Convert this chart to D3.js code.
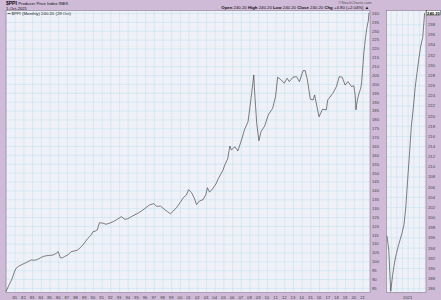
<!DOCTYPE html>
<html>
<head>
<meta charset="utf-8">
<script src="https://cdn.jsdelivr.net/npm/d3@7"></script>
<style>
  body { margin: 0; background: #fff; }
  svg { display: block; font-family: "Liberation Sans", Arial, sans-serif; }
</style>
</head>
<body>
<svg width="441" height="300"></svg>
<script>
// monthly readings of $PPI (turning points), 1980 - 2019
let ppiHistory = [
  ['1980-01', 83.0], ['1980-05', 86.5], ['1980-09', 89.8], ['1981-01', 94.5], ['1981-03', 96.1],
  ['1981-07', 97.4], ['1981-10', 98.0], ['1982-02', 98.8], ['1982-05', 99.3], ['1982-09', 100.2],
  ['1982-12', 100.8], ['1983-04', 100.6], ['1983-07', 100.9], ['1983-10', 101.4], ['1984-01', 102.1],
  ['1984-05', 102.8], ['1984-09', 103.2], ['1985-01', 103.3], ['1985-06', 103.6], ['1985-10', 104.4],
  ['1986-01', 105.5], ['1986-04', 102.1], ['1986-07', 102.0], ['1986-10', 102.7], ['1987-03', 103.8],
  ['1987-07', 105.5], ['1987-11', 105.8], ['1988-04', 106.4], ['1988-08', 107.9], ['1988-11', 109.2],
  ['1989-03', 111.3], ['1989-06', 113.0], ['1989-10', 114.6], ['1990-01', 116.7], ['1990-04', 117.0],
  ['1990-07', 117.7], ['1990-10', 121.8], ['1991-03', 121.5], ['1991-07', 120.9], ['1991-12', 121.5],
  ['1992-05', 122.4], ['1992-09', 123.3], ['1993-02', 124.6], ['1993-04', 125.2], ['1993-09', 123.7],
  ['1994-01', 124.0], ['1994-06', 125.2], ['1994-11', 126.3], ['1995-03', 127.1], ['1995-08', 128.4],
  ['1996-01', 129.9], ['1996-07', 131.8], ['1997-01', 132.5], ['1997-05', 131.0], ['1997-10', 131.2],
  ['1998-04', 129.2], ['1998-08', 128.0], ['1998-12', 126.8], ['1999-04', 128.4], ['1999-09', 130.6],
  ['2000-01', 133.0], ['2000-06', 136.0], ['2000-10', 137.4], ['2001-01', 140.4], ['2001-05', 138.8],
  ['2001-09', 135.5], ['2001-12', 132.0], ['2002-04', 134.0], ['2002-09', 134.8], ['2003-01', 137.8],
  ['2003-03', 141.5], ['2003-06', 139.0], ['2003-10', 140.8], ['2004-03', 143.8], ['2004-06', 146.6],
  ['2004-10', 149.6], ['2004-12', 151.0], ['2005-03', 154.3], ['2005-07', 157.8], ['2005-10', 165.0],
  ['2005-12', 162.8], ['2006-05', 164.6], ['2006-09', 162.2], ['2007-02', 168.4], ['2007-06', 174.0],
  ['2007-11', 178.7], ['2008-02', 188.0], ['2008-04', 194.5], ['2008-07', 205.1], ['2008-08', 196.6],
  ['2008-11', 177.8], ['2009-02', 168.0], ['2009-05', 173.1], ['2009-10', 176.3], ['2010-03', 182.5],
  ['2010-09', 186.3], ['2011-01', 192.8], ['2011-04', 203.8], ['2011-09', 202.2], ['2012-01', 200.4],
  ['2012-05', 203.2], ['2012-08', 201.3], ['2013-01', 203.8], ['2013-06', 204.1], ['2013-10', 201.3],
  ['2014-03', 207.5], ['2014-06', 207.5], ['2014-09', 202.2], ['2015-01', 191.4], ['2015-05', 191.0],
  ['2015-07', 193.8], ['2016-01', 181.5], ['2016-06', 185.8], ['2016-11', 185.4], ['2017-01', 191.0],
  ['2017-08', 194.7], ['2018-01', 198.5], ['2018-05', 204.1], ['2018-09', 203.8], ['2019-01', 199.4],
  ['2019-05', 201.3], ['2019-10', 198.5]
];

// every month from Jan 2020 to Oct 2021
let recentMonths = ['2020-01', '2020-02', '2020-03', '2020-04', '2020-05', '2020-06', '2020-07', '2020-08',
  '2020-09', '2020-10', '2020-11', '2020-12', '2021-01', '2021-02', '2021-03', '2021-04', '2021-05',
  '2021-06', '2021-07', '2021-08', '2021-09', '2021-10'];
let recentValues = [199.0, 196.3, 193.5, 185.4, 188.5, 191.0, 192.8, 194.3, 195.6, 196.9, 198.5, 202.0,
  207.5, 212.9, 218.0, 221.5, 225.5, 228.5, 231.3, 233.8, 235.4, 240.2];

let mainTicks = d3.range(85, 241, 5);
let zoomTicks = d3.range(186, 240, 2);
let yearLabels = d3.range(1981, 2022);

let parseMonth = d3.timeParse('%Y-%m');
let series = ppiHistory.map(d => ({ date: parseMonth(d[0]), value: d[1] }))
  .concat(recentMonths.map((m, i) => ({ date: parseMonth(m), value: recentValues[i] })));
let zoomSeries = series.filter(d => d.date >= parseMonth('2020-02'));

let purple = '#cfbad8';
let plotBg = '#f0f1f8';
let gridColor = '#c2e3ee';
let inkColor = '#444';

let svg = d3.select('svg');
svg.append('rect').attr('width', 441).attr('height', 300).attr('fill', purple);

let plotTop = 10.5, plotBottom = 292.5;

// main panel
let x = d3.scaleTime()
  .domain([parseMonth('1980-01'), parseMonth('2021-10')])
  .range([6, 369]);
let y = d3.scaleLinear().domain([82.44, 241.41]).range([plotBottom, plotTop]);

let main = svg.append('g');
main.append('rect')
  .attr('x', 6).attr('y', plotTop).attr('width', 364).attr('height', plotBottom - plotTop)
  .attr('fill', plotBg);

main.append('g')
  .attr('transform', `translate(0, ${plotBottom})`)
  .call(d3.axisBottom(x).ticks(d3.timeYear.every(1)).tickSize(-(plotBottom - plotTop)).tickFormat(''))
  .call(g => g.select('.domain').remove())
  .call(g => g.selectAll('line').attr('stroke', gridColor).attr('stroke-width', 0.6));

main.append('g')
  .attr('transform', 'translate(370, 0)')
  .call(d3.axisRight(y).tickValues(mainTicks).tickSize(-364).tickPadding(2).tickFormat(d3.format('d')))
  .call(g => g.select('.domain').remove())
  .call(g => g.selectAll('line').attr('stroke', gridColor).attr('stroke-width', 0.6))
  .call(g => g.selectAll('text').attr('font-size', 4.2).attr('fill', inkColor).attr('font-family', 'Liberation Sans'));

main.selectAll('.yr')
  .data(yearLabels)
  .join('text')
    .attr('class', 'yr')
    .attr('x', d => x(new Date(d, 0, 1)))
    .attr('y', 298.5)
    .attr('text-anchor', 'middle')
    .attr('font-size', 4.2)
    .attr('fill', inkColor)
    .text(d => String(d).slice(2));

main.append('rect')
  .attr('x', 6).attr('y', plotTop).attr('width', 364).attr('height', plotBottom - plotTop)
  .attr('fill', 'none').attr('stroke', '#8a7a92').attr('stroke-width', 0.6);

let line = d3.line().x(d => x(d.date)).y(d => y(d.value));
main.append('path')
  .datum(series)
  .attr('d', line)
  .attr('fill', 'none')
  .attr('stroke', '#3c3c3c')
  .attr('stroke-width', 0.65);

// zoom panel for 2020-2021
let x2 = d3.scaleTime()
  .domain([parseMonth('2020-02'), parseMonth('2021-10')])
  .range([387, 424.6]);
let y2 = d3.scaleLinear().domain([185.17, 240.71]).range([plotBottom, plotTop]);

let side = svg.append('g');
side.append('rect')
  .attr('x', 386.5).attr('y', plotTop).attr('width', 39.5).attr('height', plotBottom - plotTop)
  .attr('fill', plotBg);

side.append('g')
  .attr('transform', `translate(0, ${plotBottom})`)
  .call(d3.axisBottom(x2).ticks(d3.timeMonth.every(3)).tickSize(-(plotBottom - plotTop)).tickFormat(''))
  .call(g => g.select('.domain').remove())
  .call(g => g.selectAll('line').attr('stroke', gridColor).attr('stroke-width', 0.6));

side.append('g')
  .attr('transform', 'translate(426, 0)')
  .call(d3.axisRight(y2).tickValues(zoomTicks).tickSize(-39.5).tickPadding(2).tickFormat(d3.format('d')))
  .call(g => g.select('.domain').remove())
  .call(g => g.selectAll('line').attr('stroke', gridColor).attr('stroke-width', 0.6))
  .call(g => g.selectAll('text').attr('font-size', 4.2).attr('fill', inkColor).attr('font-family', 'Liberation Sans'));

side.append('text')
  .attr('x', x2(parseMonth('2021-01')))
  .attr('y', 298.5)
  .attr('text-anchor', 'middle')
  .attr('font-size', 4.2)
  .attr('fill', inkColor)
  .text('2021');

side.append('rect')
  .attr('x', 386.5).attr('y', plotTop).attr('width', 39.5).attr('height', plotBottom - plotTop)
  .attr('fill', 'none').attr('stroke', '#8a7a92').attr('stroke-width', 0.6);

side.append('path')
  .datum(zoomSeries)
  .attr('d', d3.line().x(d => x2(d.date)).y(d => y2(d.value)))
  .attr('fill', 'none')
  .attr('stroke', '#3c3c3c')
  .attr('stroke-width', 0.65);

// last price tag
let last = recentValues[recentValues.length - 1];
side.append('rect')
  .attr('x', 426.5).attr('y', y2(last) - 2.6).attr('width', 14).attr('height', 5.2)
  .attr('fill', '#fff').attr('stroke', '#222').attr('stroke-width', 0.4);
side.append('text')
  .attr('x', 433.5).attr('y', y2(last) + 1.6)
  .attr('text-anchor', 'middle')
  .attr('font-size', 4.2)
  .attr('font-weight', 'bold')
  .attr('fill', '#000')
  .text(last.toFixed(2));

// header texts
let head = svg.append('g').attr('fill', '#111');
let title = head.append('text').attr('x', 6).attr('y', 5.2).attr('font-size', 5);
title.append('tspan').attr('font-weight', 'bold').text('$PPI ');
title.append('tspan').attr('font-size', 4.2).text('Producer Price Index INEX');
head.append('text').attr('x', 6).attr('y', 9.6).attr('font-size', 4.2).text('1-Oct-2021');
head.append('text').attr('x', 355).attr('y', 3.8).attr('font-size', 4).attr('text-anchor', 'middle')
  .attr('fill', '#555').text('©StockCharts.com');

let quote = head.append('text').attr('x', 369).attr('y', 9).attr('font-size', 4.3).attr('text-anchor', 'end');
[['Open', '240.20'], ['High', '240.20'], ['Low', '240.20'], ['Close', '240.20'], ['Chg', '+4.80 (+2.04%) ▲']]
  .forEach(p => {
    quote.append('tspan').attr('font-weight', 'bold').text(p[0] + ' ');
    quote.append('tspan').text(p[1] + ' ');
  });

svg.append('line')
  .attr('x1', 7.5).attr('x2', 10.5).attr('y1', 13.6).attr('y2', 13.6)
  .attr('stroke', '#333').attr('stroke-width', 0.8);
svg.append('text').attr('x', 11.5).attr('y', 15.1).attr('font-size', 4.3).attr('fill', '#222')
  .text('$PPI (Monthly) 240.20 (29 Oct)');
</script>
</body>
</html>
